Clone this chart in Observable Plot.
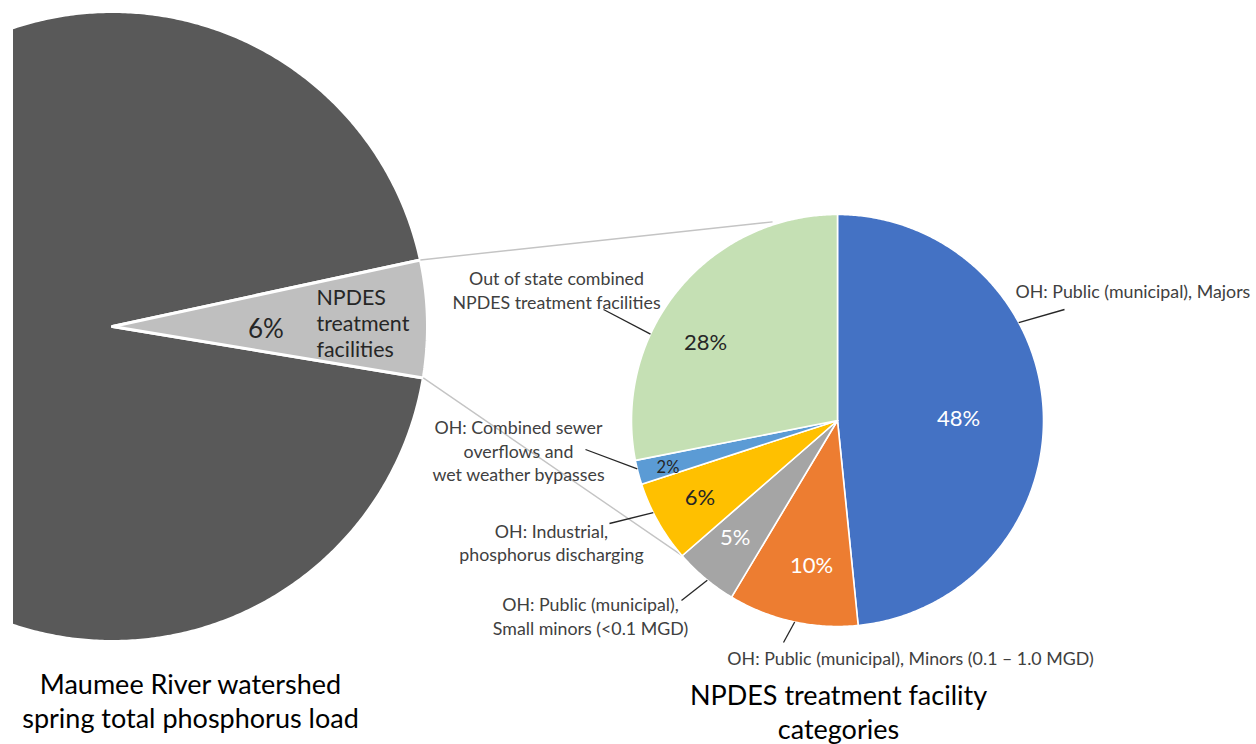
<!DOCTYPE html>
<html>
<head>
<meta charset="utf-8">
<script src="https://cdn.jsdelivr.net/npm/d3@7"></script>
<script src="https://cdn.jsdelivr.net/npm/@observablehq/plot@0.6"></script>
<style>
  html, body { margin: 0; padding: 0; background: #fff; }
  #chart svg { display: block; }
</style>
</head>
<body>
<div id="chart"></div>
<script>
// ---------------- data ----------------
const overviewCategories = ["Other sources", "NPDES treatment facilities"];
const overviewShares = [94, 6];
const overviewColors = ["#595959", "#bfbfbf"];

const facilityCategories = [
  "OH: Public (municipal), Majors",
  "OH: Public (municipal), Minors (0.1 – 1.0 MGD)",
  "OH: Public (municipal),\nSmall minors (<0.1 MGD)",
  "OH: Industrial,\nphosphorus discharging",
  "OH: Combined sewer\noverflows and\nwet weather bypasses",
  "Out of state combined\nNPDES treatment facilities"
];
const facilityShares = [48.4, 10.2, 5.0, 6.4, 1.9, 28.1];
const facilityColors = ["#4472c4", "#ed7d31", "#a5a5a5", "#ffc000", "#5b9bd5", "#c5e0b4"];
const facilityLabelColors = ["#ffffff", "#ffffff", "#ffffff", "#262626", "#262626", "#262626"];

const titles = ["Maumee River watershed\nspring total phosphorus load", "NPDES treatment facility\ncategories"];

// ---------------- layout ----------------
const W = 1256, H = 744;
const left = {cx: 112, cy: 326, r: 315, start: 77.8};
const right = {cx: 837, cy: 420, r: 206, start: 0};
// percent label placement (radius, angle nudge in degrees) per facility slice
const pctRadius = [121, 148, 156, 158, 176, 153];
const pctTurn = [2, -2.5, 1, 0, -1, -9];
// callout leader lines: angle on right pie, end point, label anchor
const calloutAngle = [61.6, 192, 219.2, 243.4, 256.4, 294.8];
const calloutEnd = [[1064, 309], [783, 642], [681, 600], [609, 523], [585, 449], [603, 309]];
const labelAt = [[1015, 290, "start"], [910, 657, "middle"], [590, 615, "middle"], [551, 541.5, "middle"], [518, 449.5, "middle"], [556, 289, "middle"]];
const connectorAngle = [341.9, 229.1];
const connectorRadius = [209, 206];

// ---------------- geometry helpers ----------------
const rad = d => d * Math.PI / 180;
const polar = (p, angle, r) => ({x: p.cx + r * Math.sin(rad(angle)), y: p.cy - r * Math.cos(rad(angle))});

function sliceAngles(values, start) {
  const total = d3.sum(values);
  let acc = start;
  return values.map((v, i) => {
    const a0 = acc, a1 = acc + v / total * 360;
    acc = a1;
    return {i, v, a0, a1, mid: (a0 + a1) / 2};
  });
}
function slicePolygon(p, s, key, color) {
  const pts = [{key, color, x: p.cx, y: p.cy}];
  const n = Math.max(2, Math.ceil((s.a1 - s.a0) / 0.5));
  for (let k = 0; k <= n; ++k) {
    const a = s.a0 + (s.a1 - s.a0) * k / n;
    pts.push({key, color, ...polar(p, a, p.r)});
  }
  pts.push({key, color, x: p.cx, y: p.cy});
  return pts;
}

const leftSlices = sliceAngles([overviewShares[1], overviewShares[0]], left.start); // NPDES first
const leftDark = slicePolygon(left, leftSlices[1], "dark", overviewColors[0]);
const leftLight = slicePolygon(left, leftSlices[0], "light", overviewColors[1]);

const rightSlices = sliceAngles(facilityShares, right.start);
const rightPolys = rightSlices.flatMap(s => slicePolygon(right, s, "f" + s.i, facilityColors[s.i]));

const pctLabels = rightSlices.map(s => ({
  text: d3.format(".0f")(s.v) + "%",
  color: facilityLabelColors[s.i],
  small: s.v < 3,
  ...polar(right, s.mid + pctTurn[s.i], pctRadius[s.i])
}));

const leaders = rightSlices.map(s => {
  const a = polar(right, calloutAngle[s.i], right.r);
  return {x1: a.x, y1: a.y, x2: calloutEnd[s.i][0], y2: calloutEnd[s.i][1]};
});
const catLabels = facilityCategories.map((t, i) => ({text: t, x: labelAt[i][0], y: labelAt[i][1], anchor: labelAt[i][2]}));

const npdes = leftSlices[0];
const ends = [polar(left, npdes.a0, left.r), polar(left, npdes.a1, left.r)];
const connectors = ends.map((a, k) => {
  const b = polar(right, connectorAngle[k], connectorRadius[k]);
  return {x1: a.x, y1: a.y, x2: b.x, y2: b.y};
});

const leftPct = [{text: d3.format(".0f")(overviewShares[1]) + "%", ...polar(left, npdes.mid + 2.4, 153.5)}];
const leftName = [{text: "NPDES\ntreatment\nfacilities", x: 316, y: 322.5}];
const titleLabels = [
  {text: titles[0], x: 190, y: 700},
  {text: titles[1], x: 838, y: 711}
];

const font = "Lato, 'Open Sans', sans-serif";
const chart = Plot.plot({
  width: W, height: H,
  marginLeft: 13, marginRight: 0, marginTop: 0, marginBottom: 0,
  x: {domain: [0, W], range: [0, W], axis: null},
  y: {domain: [0, H], range: [0, H], axis: null},
  color: {type: "identity"},
  style: {fontFamily: font, background: "#fff"},
  marks: [
    Plot.line(leftDark, {x: "x", y: "y", z: "key", fill: "color", stroke: "#fff", strokeWidth: 3, curve: "linear", clip: true}),
    Plot.line(leftLight, {x: "x", y: "y", z: "key", fill: "color", stroke: "#fff", strokeWidth: 3, curve: "linear", strokeLinejoin: "miter"}),
    Plot.link(connectors, {x1: "x1", y1: "y1", x2: "x2", y2: "y2", stroke: "#c4c4c4", strokeWidth: 1.4}),
    Plot.line(rightPolys, {x: "x", y: "y", z: "key", fill: "color", stroke: "#fff", strokeWidth: 1.6, curve: "linear"}),
    Plot.link(leaders, {x1: "x1", y1: "y1", x2: "x2", y2: "y2", stroke: "#262626", strokeWidth: 1.3}),
    Plot.text(pctLabels.filter(d => !d.small), {x: "x", y: "y", text: "text", fill: "color", fontSize: 22}),
    Plot.text(pctLabels.filter(d => d.small), {x: "x", y: "y", text: "text", fill: "color", fontSize: 16.5}),
    Plot.text(catLabels.filter(d => d.anchor === "start"), {x: "x", y: "y", text: "text", textAnchor: "start", fill: "#404040", fontSize: 17.8, lineHeight: 1.32}),
    Plot.text(catLabels.filter(d => d.anchor !== "start"), {x: "x", y: "y", text: "text", textAnchor: "middle", fill: "#404040", fontSize: 17.8, lineHeight: 1.32}),
    Plot.text(leftPct, {x: "x", y: "y", text: "text", fill: "#262626", fontSize: 26}),
    Plot.text(leftName, {x: "x", y: "y", text: "text", textAnchor: "start", fill: "#262626", fontSize: 21.4, lineHeight: 1.22}),
    Plot.text(titleLabels, {x: "x", y: "y", text: "text", fill: "#000", fontSize: 27, lineHeight: 1.24})
  ]
});
document.getElementById("chart").appendChild(chart);
</script>
</body>
</html>
